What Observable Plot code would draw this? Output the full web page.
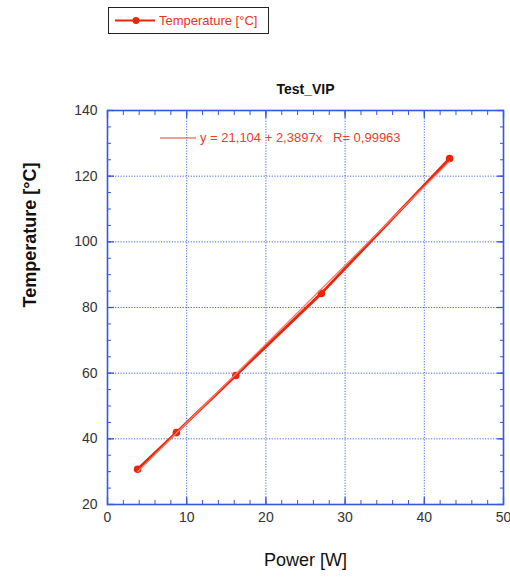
<!DOCTYPE html>
<html>
<head>
<meta charset="utf-8">
<script src="https://cdn.jsdelivr.net/npm/d3@7"></script>
<script src="https://cdn.jsdelivr.net/npm/@observablehq/plot@0.6"></script>
<style>
  body { margin: 0; background: #fff; font-family: "Liberation Sans", Arial, sans-serif; }
  #wrap { position: relative; width: 510px; height: 578px; }
  #legend { position: absolute; left: 108px; top: 7px; width: 161px; height: 27px; border: 1px solid #222; box-sizing: border-box; background: #fff; }
  #legend svg { position: absolute; left: 0; top: 0; }
  #legend span { position: absolute; left: 50px; top: 5px; font-size: 13px; color: #e8341c; white-space: nowrap; }
  #fitline { position: absolute; left: 158px; top: 132px; }
  #fit { position: absolute; left: 200px; top: 130px; font-size: 13px; color: #e8412f; white-space: nowrap; }
</style>
</head>
<body>
<div id="wrap">
  <div id="chart"></div>
  <div id="legend">
    <svg width="50" height="27"><line x1="6" y1="12.5" x2="46" y2="12.5" stroke="#e8260c" stroke-width="2"/><circle cx="27" cy="12.5" r="3.5" fill="#e8260c"/></svg>
    <span>Temperature [°C]</span>
  </div>
  <svg id="fitline" width="40" height="12"><line x1="2" y1="6" x2="38" y2="6" stroke="#e8412f" stroke-width="1.2"/></svg>
  <div id="fit">y = 21,104 + 2,3897x &nbsp;&nbsp;R= 0,99963</div>
</div>
<script>
const seriesName = "Temperature [°C]";
const power = [3.8, 8.7, 16.2, 27.0, 43.2];
const temperature = [30.7, 41.9, 59.3, 84.3, 125.4];
const xTicks = [0, 10, 20, 30, 40, 50];
const yTicks = [20, 40, 60, 80, 100, 120, 140];
const title = "Test_VIP";
const xLabel = "Power [W]";
const yLabel = "Temperature [°C]";

const data = power.map((p, i) => ({power: p, temperature: temperature[i]}));
const blue = "#3458e0";
const red = "#e8260c";

const chart = Plot.plot({
  width: 510,
  height: 578,
  marginLeft: 107,
  marginRight: 7,
  marginTop: 110,
  marginBottom: 74,
  style: {fontFamily: "Liberation Sans, Arial, sans-serif", background: "#fff"},
  x: {domain: [0, 50]},
  y: {domain: [20, 140]},
  marks: [
    Plot.gridX(xTicks.slice(1, -1), {stroke: blue, strokeOpacity: 0.9, strokeDasharray: "1.2,1.5", strokeWidth: 1}),
    Plot.gridY(yTicks.slice(1, -1), {stroke: blue, strokeOpacity: 0.9, strokeDasharray: "1.2,1.5", strokeWidth: 1}),
    Plot.axisX({anchor: "bottom", interval: 2, tickSize: -4, tickFormat: () => "", label: null, stroke: blue}),
    Plot.axisX({anchor: "top", interval: 2, tickSize: -4, tickFormat: () => "", label: null, stroke: blue}),
    Plot.axisY({anchor: "left", interval: 5, tickSize: -4, tickFormat: () => "", label: null, stroke: blue}),
    Plot.axisY({anchor: "right", interval: 5, tickSize: -4, tickFormat: () => "", label: null, stroke: blue}),
    Plot.axisX({anchor: "bottom", ticks: xTicks, tickSize: -7, tickFormat: () => "", label: null, stroke: blue, strokeWidth: 1.3}),
    Plot.axisX({anchor: "top", ticks: xTicks, tickSize: -7, tickFormat: () => "", label: null, stroke: blue, strokeWidth: 1.3}),
    Plot.axisY({anchor: "left", ticks: yTicks, tickSize: -7, tickFormat: () => "", label: null, stroke: blue, strokeWidth: 1.3}),
    Plot.axisY({anchor: "right", ticks: yTicks, tickSize: -7, tickFormat: () => "", label: null, stroke: blue, strokeWidth: 1.3}),
    Plot.axisX({anchor: "bottom", ticks: xTicks, tickSize: 0, tickPadding: 8, label: null, fontSize: 14, fill: "#333", tickFormat: d => d}),
    Plot.axisY({anchor: "left", ticks: yTicks, tickSize: 0, tickPadding: 10, label: null, fontSize: 14, fill: "#333", tickFormat: d => d}),
    Plot.frame({stroke: blue, strokeWidth: 1.6}),
    Plot.line(data, {x: "power", y: "temperature", stroke: red, strokeWidth: 2.8}),
    Plot.dot(data, {x: "power", y: "temperature", r: 3.8, fill: red}),
    Plot.linearRegressionY(data, {x: "power", y: "temperature", stroke: "#f47a6a", strokeWidth: 1.3, ci: 0}),
    Plot.text([title], {frameAnchor: "top", dy: -26, fontSize: 14, fontWeight: "bold", fill: "#111"}),
    Plot.text([xLabel], {frameAnchor: "bottom", dy: 61, fontSize: 18, fill: "#111"}),
    Plot.text([yLabel], {frameAnchor: "left", dx: -77, rotate: -90, fontSize: 18, fontWeight: "bold", fill: "#111"})
  ]
});
document.getElementById("chart").appendChild(chart);
</script>
</body>
</html>
